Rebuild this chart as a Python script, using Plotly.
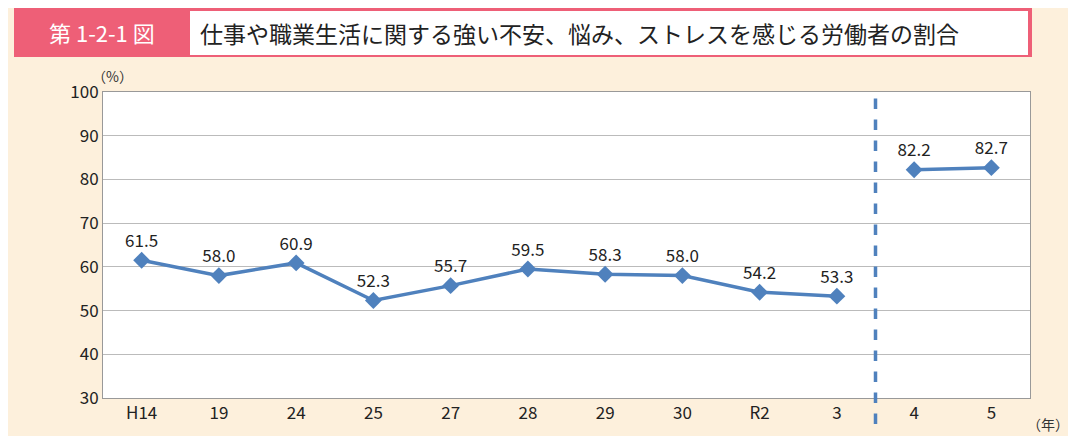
import plotly.graph_objects as go

categories = ["H14", "19", "24", "25", "27", "28", "29", "30", "R2", "3", "4", "5"]
values_a = [61.5, 58.0, 60.9, 52.3, 55.7, 59.5, 58.3, 58.0, 54.2, 53.3]
values_b = [82.2, 82.7]

xa = list(range(len(values_a)))
xb = list(range(len(values_a), len(categories)))
blue = "#4F81BD"
font = "Noto Sans CJK JP"

# page has 8px body margin -> work in shifted coordinates
O = 8
W, H = 1076 - 2 * O, 444 - 2 * O
L, T, R, B = 103 - O, 92 - O, 1030 - O, 398 - O
pw, ph = R - L, B - T
def px(x): return (x - O - L) / pw
def py(y): return (B - (y - O)) / ph

fig = go.Figure()
for xs, ys in [(xa, values_a), (xb, values_b)]:
    fig.add_trace(go.Scatter(
        x=xs, y=ys, mode="lines+markers+text",
        line=dict(color=blue, width=3.5),
        marker=dict(symbol="diamond", size=13, color=blue),
        text=[f"{v:.1f}" for v in ys], textposition="top center",
        textfont=dict(size=17, color="#222", family=font),
        showlegend=False, cliponaxis=False))

fig.add_shape(type="line", xref="x", yref="paper", x0=9.5, x1=9.5, y0=py(424), y1=1,
              line=dict(color=blue, width=3.5, dash="dash"))
fig.add_shape(type="rect", xref="paper", yref="paper", x0=px(14), x1=px(1032), y0=py(57), y1=py(8),
              fillcolor="#EE5F77", line=dict(width=0))
fig.add_shape(type="rect", xref="paper", yref="paper", x0=px(190), x1=px(1028), y0=py(55), y1=py(11),
              fillcolor="white", line=dict(width=0))

def ann(x, y, text, size, color, xanchor="center"):
    fig.add_annotation(xref="paper", yref="paper", x=px(x), y=py(y), text=text,
                       xanchor=xanchor, yanchor="middle", showarrow=False,
                       font=dict(size=size, color=color, family=font))

ann(102, 32, "第 1-2-1 図", 22, "white")
ann(198, 33, "仕事や職業生活に関する強い不安、悩み、ストレスを感じる労働者の割合", 23, "#222", "left")
ann(112, 76, "（%）", 14, "#333")
ann(1048, 424, "（年）", 14, "#333")

fig.update_layout(
    width=W, height=H,
    paper_bgcolor="#FDF0DC", plot_bgcolor="white",
    margin=dict(l=L, r=W - R, t=T, b=H - B, autoexpand=False),
    font=dict(family=font, color="#222"),
    xaxis=dict(tickmode="array", tickvals=list(range(len(categories))), ticktext=categories,
               range=[-0.5, len(categories) - 0.5], showgrid=False, ticks="",
               showline=True, linecolor="#999", mirror=True, zeroline=False,
               tickfont=dict(size=17)),
    yaxis=dict(range=[30, 100], dtick=10, gridcolor="#bbbbbb", gridwidth=1,
               showline=True, linecolor="#999", mirror=True, zeroline=False,
               tickfont=dict(size=17), ticklen=0),
)

fig.write_html("out.html")
